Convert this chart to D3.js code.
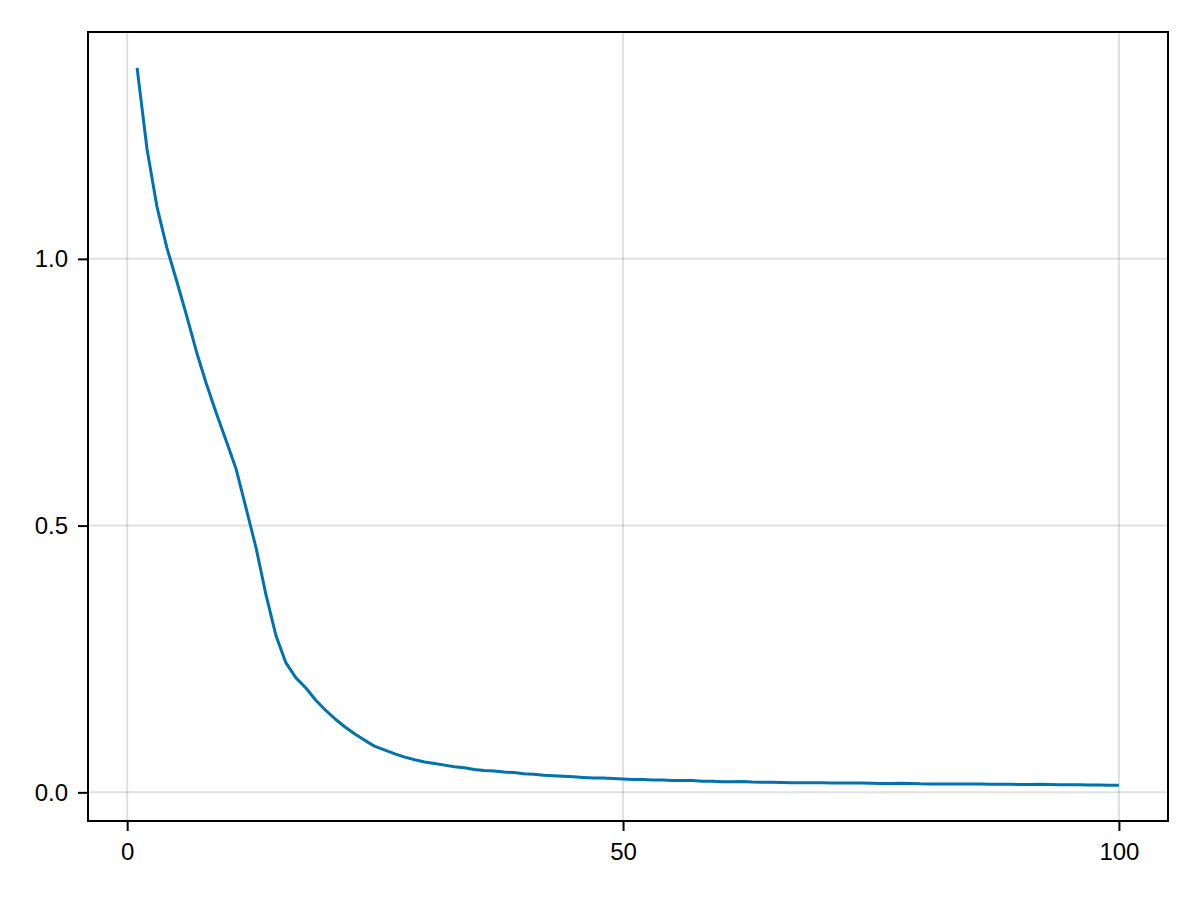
<!DOCTYPE html>
<html>
<head>
<meta charset="utf-8">
<script src="https://cdn.jsdelivr.net/npm/d3@7"></script>
<style>
  html, body { margin: 0; padding: 0; background: #fff; }
  svg { display: block; }
  text { font-family: "Liberation Sans", Arial, "DejaVu Sans", sans-serif; }
</style>
</head>
<body>
<svg id="chart" width="1200" height="900"></svg>
<script>
// ---- data ----
const epochs = d3.range(1, 101);
const lossValues = [
  1.358, 1.206, 1.098, 1.021, 0.958, 0.893, 0.825, 0.765, 0.710, 0.658,
  0.605, 0.532, 0.458, 0.370, 0.294, 0.243, 0.215, 0.196, 0.173, 0.154,
  0.137, 0.122, 0.109, 0.097, 0.086, 0.079, 0.072, 0.066, 0.061, 0.057,
  0.054, 0.051, 0.048, 0.046, 0.043, 0.041, 0.040, 0.038, 0.037, 0.035,
  0.034, 0.032, 0.031, 0.030, 0.029, 0.028, 0.027, 0.027, 0.026, 0.025,
  0.024, 0.024, 0.023, 0.023, 0.022, 0.022, 0.022, 0.021, 0.021, 0.020,
  0.020, 0.0205, 0.0195, 0.019, 0.019, 0.0185, 0.018, 0.018, 0.018, 0.018,
  0.0175, 0.0175, 0.0175, 0.0175, 0.017, 0.0165, 0.0165, 0.017, 0.0168, 0.016,
  0.0158, 0.0158, 0.0158, 0.0155, 0.0155, 0.0155, 0.015, 0.015, 0.015, 0.0148,
  0.0145, 0.015, 0.0145, 0.0142, 0.014, 0.014, 0.0138, 0.0138, 0.0135, 0.0135
];
const xTicks = [0, 50, 100];
const yTicks = [0.0, 0.5, 1.0];

// ---- layout ----
const svg = d3.select("#chart");
const mLeft = 88, mRight = 1168, mTop = 32, mBottom = 821;

const points = epochs.map((e, i) => ({ x: e, y: lossValues[i] }));

const xExt = d3.extent(epochs);
const xPad = (xExt[1] - xExt[0]) * 0.05;
const yExt = d3.extent(lossValues);
const yPad = (yExt[1] - yExt[0]) * 0.05;

const x = d3.scaleLinear().domain([xExt[0] - xPad, xExt[1] + xPad]).range([mLeft, mRight]);
const y = d3.scaleLinear().domain([yExt[0] - yPad, yExt[1] + yPad]).range([mBottom, mTop]);

// grid
const grid = svg.append("g");
grid.selectAll("line.vx").data(xTicks).join("line")
  .attr("class", "vx")
  .attr("x1", d => x(d)).attr("x2", d => x(d))
  .attr("y1", mTop).attr("y2", mBottom)
  .attr("stroke", "#000").attr("stroke-opacity", 0.12).attr("stroke-width", 2);
grid.selectAll("line.hy").data(yTicks).join("line")
  .attr("class", "hy")
  .attr("x1", mLeft).attr("x2", mRight)
  .attr("y1", d => y(d)).attr("y2", d => y(d))
  .attr("stroke", "#000").attr("stroke-opacity", 0.12).attr("stroke-width", 2);

// line
svg.append("path")
  .datum(points)
  .attr("fill", "none")
  .attr("stroke", "#0072B2")
  .attr("stroke-width", 3)
  .attr("stroke-linejoin", "round")
  .attr("d", d3.line().x(d => x(d.x)).y(d => y(d.y)));

// axes
const xAxis = svg.append("g")
  .attr("transform", `translate(0,${mBottom})`)
  .call(d3.axisBottom(x).tickValues(xTicks).tickFormat(d3.format("d")).tickSize(10).tickPadding(12));
const yAxis = svg.append("g")
  .attr("transform", `translate(${mLeft},0)`)
  .call(d3.axisLeft(y).tickValues(yTicks).tickFormat(d3.format(".1f")).tickSize(10).tickPadding(10));

[xAxis, yAxis].forEach(g => {
  g.select(".domain").remove();
  g.selectAll(".tick line").attr("stroke", "#000").attr("stroke-width", 2);
  g.selectAll(".tick text").attr("font-size", 24).attr("fill", "#000")
    .attr("font-family", "'Liberation Sans', Arial, sans-serif");
});

// frame
svg.append("rect")
  .attr("x", mLeft).attr("y", mTop)
  .attr("width", mRight - mLeft).attr("height", mBottom - mTop)
  .attr("fill", "none").attr("stroke", "#000").attr("stroke-width", 2);
</script>
</body>
</html>
